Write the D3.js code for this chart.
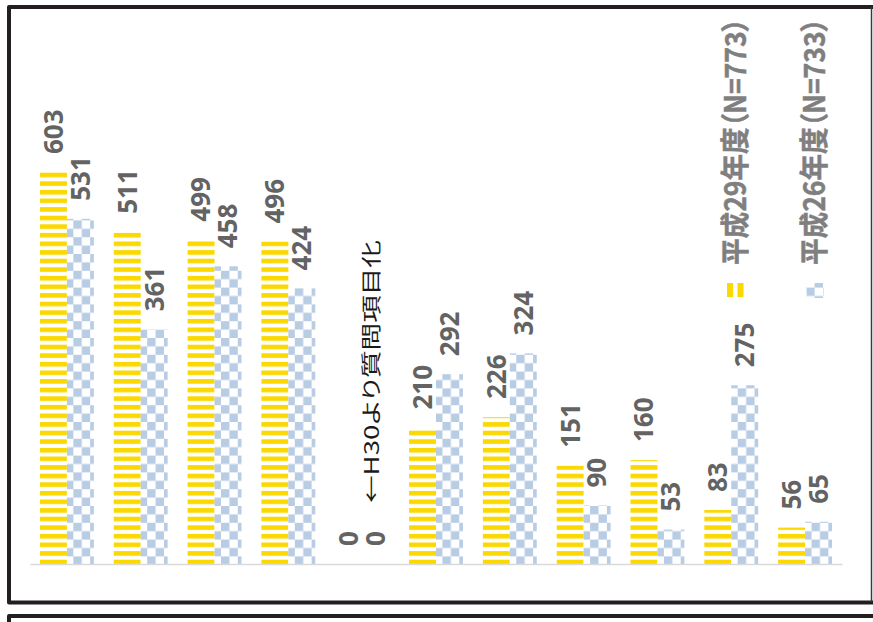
<!DOCTYPE html>
<html>
<head>
<meta charset="utf-8">
<script src="https://cdn.jsdelivr.net/npm/d3@7"></script>
<style>
  html, body { margin: 0; padding: 0; background: #ffffff; }
  svg { display: block; }
  .cjk { font-feature-settings: "palt"; }
</style>
</head>
<body>
<svg id="chart" width="873" height="622"></svg>
<script>
// Survey item counts, two survey years
const categories = ["項目1", "項目2", "項目3", "項目4", "項目5", "項目6", "項目7", "項目8", "項目9", "項目10", "項目11"];
const seriesNames = ["平成29年度（N=773）", "平成26年度（N=733）"];
const valuesH29 = [603, 511, 499, 496, 0, 210, 226, 151, 160, 83, 56];
const valuesH26 = [531, 361, 458, 424, 0, 292, 324, 90, 53, 275, 65];
const noteText = "←H30より質問項目化";

const svg = d3.select("#chart");
const W = 873, H = 622;

svg.append("rect").attr("width", W).attr("height", H).attr("fill", "#ffffff");

// fill patterns: horizontal yellow stripes, light-blue checkerboard
const defs = svg.append("defs");
const stripe = defs.append("pattern")
  .attr("id", "stripeY").attr("patternUnits", "userSpaceOnUse")
  .attr("width", 10).attr("height", 8.6).attr("y", 0.7);
stripe.append("rect").attr("width", 10).attr("height", 8.6).attr("fill", "#ffffff");
stripe.append("rect").attr("width", 10).attr("height", 4.6).attr("fill", "#fbd800");

const cs = 8.4;
const check = defs.append("pattern")
  .attr("id", "checkB").attr("patternUnits", "userSpaceOnUse")
  .attr("width", cs * 2).attr("height", cs * 2).attr("x", 67).attr("y", 2);
check.append("rect").attr("width", cs * 2).attr("height", cs * 2).attr("fill", "#ffffff");
check.append("rect").attr("width", cs).attr("height", cs).attr("fill", "#b8cce4");
check.append("rect").attr("x", cs).attr("y", cs).attr("width", cs).attr("height", cs).attr("fill", "#b8cce4");

const fills = ["url(#stripeY)", "url(#checkB)"];

// scales
const x0 = d3.scaleBand().domain(categories).range([30, 842])
  .paddingInner(0.27).paddingOuter(0.135);
const x1 = d3.scaleBand().domain([0, 1]).range([0, x0.bandwidth()]);
const y = d3.scaleLinear().domain([0, 700]).range([564, 109]);

const rows = categories.map((c, i) => ({ cat: c, vals: [valuesH29[i], valuesH26[i]] }));

const groups = svg.append("g").selectAll("g").data(rows).join("g")
  .attr("transform", d => `translate(${x0(d.cat)},0)`);

groups.selectAll("rect").data(d => d.vals.map((v, s) => ({ v, s }))).join("rect")
  .attr("x", d => x1(d.s))
  .attr("y", d => y(d.v))
  .attr("width", x1.bandwidth())
  .attr("height", d => y(0) - y(d.v))
  .attr("fill", d => fills[d.s]);

// baseline axis
const axis = svg.append("g").attr("transform", `translate(0,${y(0)})`)
  .call(d3.axisBottom(x0).tickValues([]).tickSizeOuter(0));
axis.select(".domain").attr("stroke", "#d9d9d9").attr("stroke-width", 1.6);

// value labels, rotated to read upward
groups.selectAll("text").data(d => d.vals.map((v, s) => ({ v, s }))).join("text")
  .attr("transform", d => `translate(${x1(d.s) + x1.bandwidth() / 2},${y(d.v) - 18}) rotate(-90)`)
  .attr("dy", "0.36em")
  .attr("text-anchor", "start")
  .attr("font-family", "'Noto Sans', 'Noto Sans CJK JP', sans-serif")
  .attr("font-weight", "bold")
  .attr("font-size", 26)
  .attr("fill", "#636363")
  .text(d => d.v);

// rotated text stretched or squeezed along its reading direction to a set length
function fitRotated(sel, cx, startY, length) {
  const natural = sel.node().getComputedTextLength();
  sel.attr("transform", `translate(${cx},${startY}) rotate(-90) scale(${length / natural},1)`);
}

// note beside the empty group
const noteCat = categories[4];
const note = svg.append("text")
  .attr("class", "cjk")
  .attr("dy", "0.36em")
  .attr("text-anchor", "start")
  .attr("font-family", "'Noto Sans CJK JP', sans-serif")
  .attr("font-size", 20)
  .attr("fill", "#1a1a1a")
  .text(noteText);
fitRotated(note, x0(noteCat) + x0.bandwidth() / 2 + 10, 503, 263);

// legend
const legendX = [735.5, 815];
const legend = svg.append("g").selectAll("g").data(seriesNames).join("g");
// first key: two upright yellow strokes (the stripe fill turned with the legend)
legend.filter((d, i) => i === 0).selectAll("rect").data([0, 1]).join("rect")
  .attr("x", k => legendX[0] - 8.5 + k * 10.5)
  .attr("y", 283)
  .attr("width", 6).attr("height", 14)
  .attr("fill", "#fbd800");
// second key: checkerboard square
legend.filter((d, i) => i === 1).append("rect")
  .attr("x", legendX[1] - 8.5)
  .attr("y", 283)
  .attr("width", 17).attr("height", 15)
  .attr("fill", "url(#checkB)");
legend.append("text")
  .attr("class", "cjk")
  .attr("dy", "0.36em")
  .attr("text-anchor", "start")
  .attr("font-family", "'Noto Sans CJK JP', sans-serif")
  .attr("font-weight", 700)
  .attr("font-size", 29)
  .attr("fill", "#7f7f7f")
  .attr("stroke", "#7f7f7f")
  .attr("stroke-width", 0.5)
  .text(d => d)
  .each(function (d, i) { fitRotated(d3.select(this), legendX[i], 265, 247); });

// frames
svg.append("path")
  .attr("d", "M875,7 H9 V602.5 H875")
  .attr("fill", "none").attr("stroke", "#231f20").attr("stroke-width", 4)
  .attr("stroke-linejoin", "round");
svg.append("line")
  .attr("x1", 871.5).attr("x2", 871.5).attr("y1", 7).attr("y2", 602)
  .attr("stroke", "#3a3a3a").attr("stroke-width", 1.5);
svg.append("path")
  .attr("d", "M9,625 V616 H875")
  .attr("fill", "none").attr("stroke", "#231f20").attr("stroke-width", 4)
  .attr("stroke-linejoin", "round");
</script>
</body>
</html>
